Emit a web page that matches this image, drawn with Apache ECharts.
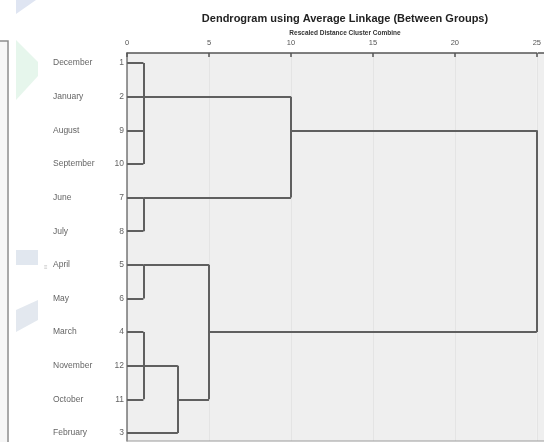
<!DOCTYPE html>
<html>
<head>
<meta charset="utf-8">
<script src="https://cdn.jsdelivr.net/npm/echarts@6/dist/echarts.min.js"></script>
<style>
  html, body { margin: 0; padding: 0; background: #ffffff; }
  #chart { width: 544px; height: 442px; }
</style>
</head>
<body>
<div id="chart"></div>
<script>
// Cases in dendrogram order (top to bottom)
const months = ['December', 'January', 'August', 'September', 'June', 'July',
                'April', 'May', 'March', 'November', 'October', 'February'];
const caseNumbers = [1, 2, 9, 10, 7, 8, 5, 6, 4, 12, 11, 3];

// Cluster merges: rescaled distance at which they join,
// children (>= 0: leaf row, < 0: merge -(k+1)), and the row the joined cluster leaves from
const mergeHeights  = [1.0, 1.0, 10.0, 1.0, 1.0, 3.1, 5.0, 25.0];
const mergeChildren = [[0, 1, 2, 3], [4, 5], [-1, -2], [6, 7], [8, 9, 10], [-5, 11], [-4, -6], [-3, -7]];
const mergeOutRows  = [1, 4, 2, 6, 9, 10, 8, null];

// Rescaled distance tick labels
const distanceTicks = [0, 5, 10, 15, 20, 25];

const LINE = '#5f5f5f';

// Build the bracket segments in data space
const segments = [];
mergeChildren.forEach((children, k) => {
  const h = mergeHeights[k];
  const rows = [];
  children.forEach(c => {
    let row, start;
    if (c >= 0) { row = c; start = 0; }
    else { const m = -c - 1; row = mergeOutRows[m]; start = mergeHeights[m]; }
    rows.push(row);
    segments.push({ coords: [[start, row], [h, row]] });
  });
  segments.push({ coords: [[h, Math.min(...rows)], [h, Math.max(...rows)]] });
});

const leafPoints = months.map((m, i) => ({ value: [0, i], name: m, caseNo: caseNumbers[i] }));

const chart = echarts.init(document.getElementById('chart'), null, { renderer: 'canvas' });

chart.setOption({
  animation: false,
  backgroundColor: '#ffffff',
  textStyle: { fontFamily: 'Liberation Sans, Arial, sans-serif' },
  title: [
    {
      text: 'Dendrogram using Average Linkage (Between Groups)',
      left: 340, top: 8, textAlign: 'center',
      textStyle: { fontSize: 11, fontWeight: 'bold', color: '#222' }
    },
    {
      text: 'Rescaled Distance Cluster Combine',
      left: 340, top: 25, textAlign: 'center',
      textStyle: { fontSize: 6.5, fontWeight: 'bold', color: '#333' }
    }
  ],
  grid: {
    left: 127, right: 6, top: 53, bottom: 1,
    show: true, backgroundColor: '#efefef', borderWidth: 0
  },
  xAxis: {
    type: 'value', position: 'top',
    min: 0, max: 25, interval: 5,
    axisLine: { show: true, onZero: false, lineStyle: { color: '#555', width: 1.5 } },
    axisTick: { show: true, inside: true, length: 4, lineStyle: { color: '#555', width: 1.5 } },
    axisLabel: {
      fontSize: 7.5, color: '#555', margin: 6,
      formatter: v => (distanceTicks.indexOf(v) >= 0 ? String(v) : '')
    },
    splitLine: { show: true, lineStyle: { color: '#e4e4e4', width: 1 } }
  },
  yAxis: {
    type: 'value', inverse: true,
    min: -0.3, max: 11.24,
    axisLine: { show: true, onZero: false, lineStyle: { color: '#777', width: 1.5 } },
    axisTick: { show: false },
    axisLabel: { show: false },
    splitLine: { show: false }
  },
  graphic: [
    // panel continues to the right edge of the page
    { type: 'rect', shape: { x: 538, y: 53, width: 6, height: 388 }, style: { fill: '#efefef' }, z: -1 },
    { type: 'line', shape: { x1: 538, y1: 53, x2: 544, y2: 53 }, style: { stroke: '#555', lineWidth: 1.5 }, z: 10 },
    // bottom edge of the plot panel
    { type: 'line', shape: { x1: 127, y1: 441, x2: 544, y2: 441 }, style: { stroke: '#9a9a9a', lineWidth: 1 }, z: 10 },
    // left page frame
    { type: 'rect', shape: { x: 0, y: 42, width: 7, height: 400 }, style: { fill: '#f6f6f6' } },
    { type: 'polyline', shape: { points: [[0, 41], [8, 41], [8, 442]] }, style: { stroke: '#8c8c8c', lineWidth: 1.5, fill: null } },
    // faint decorative shapes at the page margin
    { type: 'polygon', shape: { points: [[16, 0], [36, 0], [16, 14]] }, style: { fill: '#dfe5f2' } },
    { type: 'polygon', shape: { points: [[16, 40], [38, 62], [38, 76], [16, 100]] }, style: { fill: '#e6f6ec' } },
    { type: 'rect', shape: { x: 16, y: 250, width: 22, height: 15 }, style: { fill: '#e1e7ef' } },
    { type: 'polygon', shape: { points: [[16, 310], [38, 300], [38, 320], [16, 332]] }, style: { fill: '#e3e8ef' } },
    { type: 'text', style: { x: 44, y: 264, text: '≡', fontSize: 6, fill: '#bbb' } }
  ],
  series: [
    {
      type: 'lines',
      coordinateSystem: 'cartesian2d',
      polyline: false,
      silent: true,
      lineStyle: { color: LINE, width: 2, opacity: 1 },
      data: segments,
      z: 5
    },
    {
      type: 'scatter',
      symbolSize: 0,
      silent: true,
      data: leafPoints,
      label: {
        show: true,
        position: 'left',
        distance: 3,
        formatter: p => '{m|' + p.data.name + '}{n|' + p.data.caseNo + '}',
        rich: {
          m: { fontSize: 8.5, color: '#3a3a3a', width: 56, align: 'left' },
          n: { fontSize: 8.5, color: '#3a3a3a', width: 15, align: 'right' }
        }
      },
      z: 6
    }
  ]
});
</script>
</body>
</html>
